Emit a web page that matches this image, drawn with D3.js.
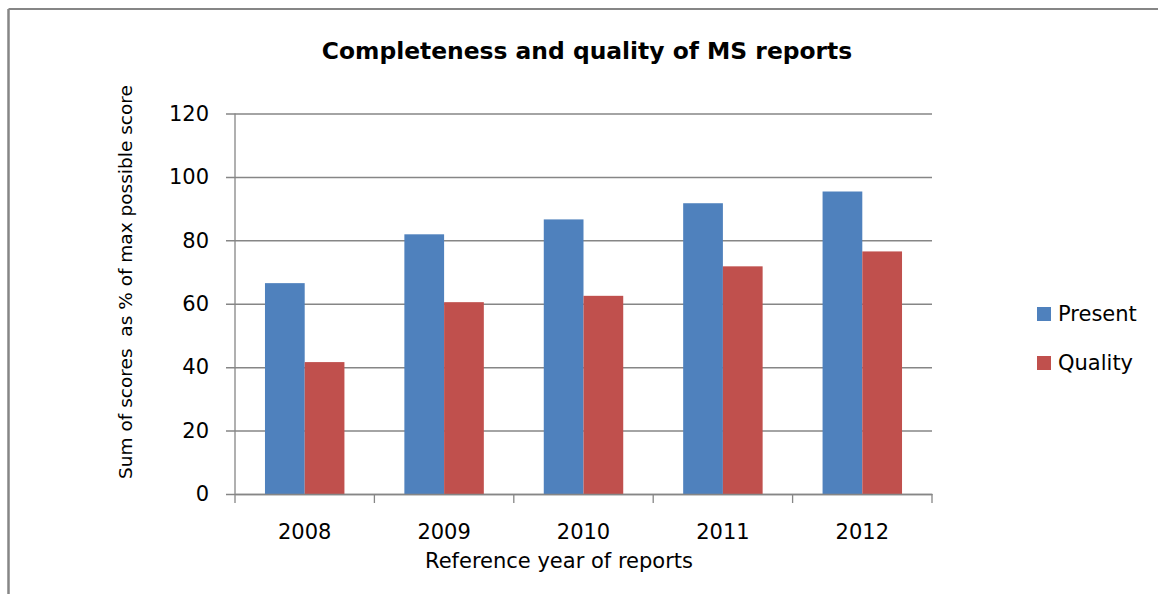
<!DOCTYPE html>
<html>
<head>
<meta charset="utf-8">
<script src="https://cdn.jsdelivr.net/npm/d3@7"></script>
<style>
body { margin: 0; background: #ffffff; }
text { font-family: "DejaVu Sans", sans-serif; fill: #000000; }
</style>
</head>
<body>
<script>
// chart data
var years = ["2008", "2009", "2010", "2011", "2012"];
var present = [66.5, 81.9, 86.6, 91.7, 95.4];
var quality = [41.6, 60.5, 62.5, 71.8, 76.5];
var seriesNames = ["Present", "Quality"];
var yTicks = [0, 20, 40, 60, 80, 100, 120];

var w = 1158;
var h = 595;
var colours = ["#4F81BD", "#C0504D"];
var grid = "#868686";

var svg = d3.select("body")
			.append("svg")
			.attr("width", w)
			.attr("height", h);

// outer frame (only top and left edges are visible)
svg.append("line")
	.attr("x1", 8.5).attr("y1", 9).attr("x2", w).attr("y2", 9)
	.attr("stroke", grid).attr("stroke-width", 2);
svg.append("line")
	.attr("x1", 8.5).attr("y1", 9).attr("x2", 8.5).attr("y2", 594)
	.attr("stroke", grid).attr("stroke-width", 2.5);

var plotLeft = 235, plotRight = 932, plotTop = 113.5, plotBottom = 494;

var x = d3.scaleBand()
	.domain(years)
	.range([plotLeft, plotRight])
	.paddingInner(0.43)
	.paddingOuter(0.215);

var xs = d3.scaleBand()
	.domain(seriesNames)
	.range([0, x.bandwidth()]);

var y = d3.scaleLinear()
	.domain([0, 120])
	.range([plotBottom, plotTop]);

// gridlines + y axis
var yAxis = d3.axisLeft(y)
	.tickValues(yTicks)
	.tickSize(-(plotRight - plotLeft))
	.tickPadding(26);

var gy = svg.append("g")
	.attr("transform", "translate(" + plotLeft + ",0)")
	.call(yAxis);
gy.select(".domain").remove();
gy.selectAll(".tick line")
	.attr("x1", -9)
	.attr("stroke", grid)
	.attr("stroke-width", 1.5);
gy.selectAll(".tick text")
	.attr("font-size", 21)
	.attr("font-family", "DejaVu Sans")
	.attr("fill", "#000");

svg.append("line")
	.attr("x1", plotLeft).attr("x2", plotLeft)
	.attr("y1", plotTop).attr("y2", plotBottom)
	.attr("stroke", grid).attr("stroke-width", 1.3);

// bars
var rows = years.map(function(d, i){ return {year: d, values: [present[i], quality[i]]}; });

var groups = svg.selectAll("g.year")
	.data(rows)
	.enter()
	.append("g")
	.attr("class", "year")
	.attr("transform", function(d){ return "translate(" + x(d.year) + ",0)"; });

groups.selectAll("rect")
	.data(function(d){ return d.values; })
	.enter()
	.append("rect")
		.attr("x", function(d, i){ return xs(seriesNames[i]); })
		.attr("y", function(d){ return y(d); })
		.attr("width", xs.bandwidth())
		.attr("height", function(d){ return plotBottom - y(d); })
		.attr("fill", function(d, i){ return colours[i]; });

// x axis
var gx = svg.append("g")
	.attr("transform", "translate(0," + plotBottom + ")")
	.call(d3.axisBottom(x).tickSize(0).tickPadding(30));
gx.select(".domain")
	.attr("stroke", grid)
	.attr("stroke-width", 1.5);
gx.selectAll(".tick text")
	.attr("font-size", 21)
	.attr("font-family", "DejaVu Sans")
	.attr("fill", "#000");

// category separators on the x axis
var edges = years.map(function(d){ return x(d) - x.step() * x.paddingInner() / 2; });
edges.push(plotRight);
svg.selectAll("line.xtick")
	.data(edges)
	.enter()
	.append("line")
	.attr("class", "xtick")
	.attr("x1", function(d){ return d; })
	.attr("x2", function(d){ return d; })
	.attr("y1", plotBottom)
	.attr("y2", plotBottom + 9)
	.attr("stroke", grid)
	.attr("stroke-width", 1.3);

// titles
svg.append("text")
	.attr("x", 587)
	.attr("y", 59)
	.attr("text-anchor", "middle")
	.attr("font-size", 23.4)
	.attr("font-weight", "bold")
	.text("Completeness and quality of MS reports");

svg.append("text")
	.attr("x", 559)
	.attr("y", 568)
	.attr("text-anchor", "middle")
	.attr("font-size", 21)
	.text("Reference year of reports");

svg.append("text")
	.attr("transform", "translate(132,282) rotate(-90)")
	.attr("text-anchor", "middle")
	.attr("font-size", 18.5)
	.style("white-space", "pre")
	.text("Sum of scores  as % of max possible score");

// legend
var legend = svg.selectAll("g.legend")
	.data(seriesNames)
	.enter()
	.append("g")
	.attr("class", "legend")
	.attr("transform", function(d, i){ return "translate(1037," + (307 + i * 49) + ")"; });
legend.append("rect")
	.attr("width", 14)
	.attr("height", 14)
	.attr("fill", function(d, i){ return colours[i]; });
legend.append("text")
	.attr("x", 21)
	.attr("y", 7)
	.attr("dy", "0.35em")
	.attr("font-size", 21)
	.text(function(d){ return d; });
</script>
</body>
</html>
